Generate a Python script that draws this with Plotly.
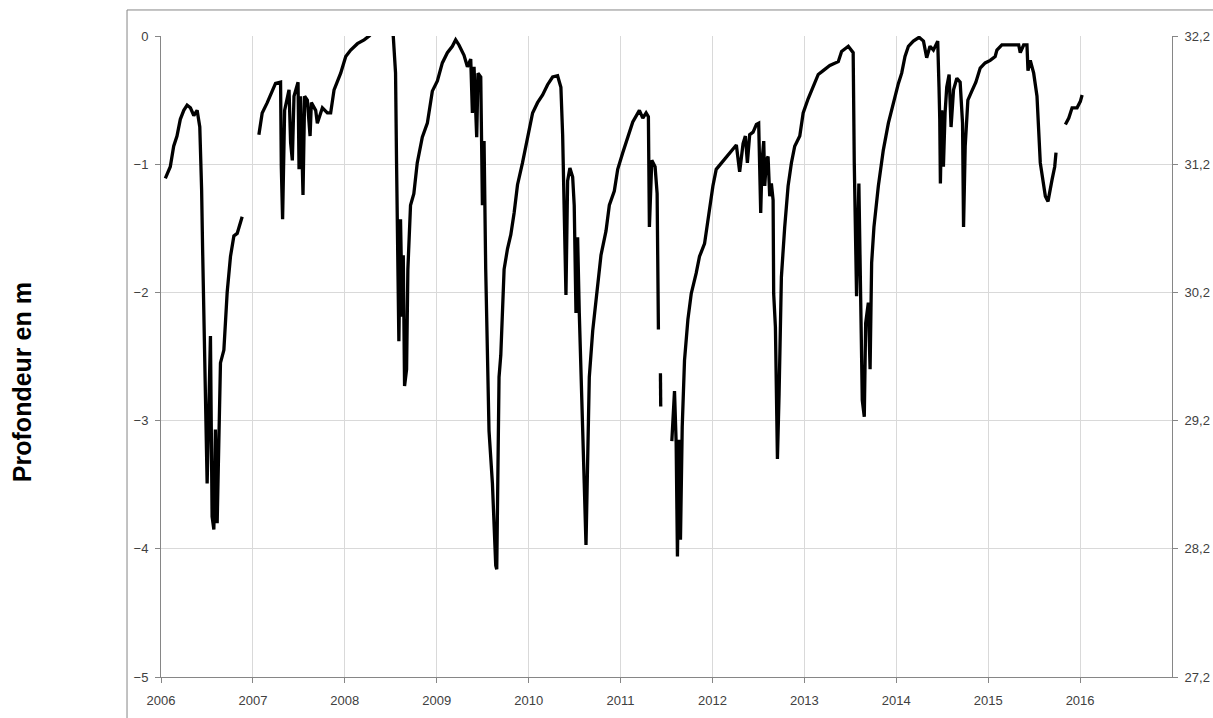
import plotly.graph_objects as go

# Decimal-year positions and depth (m) per continuous record segment
seg1_years = [2006.047, 2006.101, 2006.138, 2006.174, 2006.210, 2006.248, 2006.284, 2006.320,
              2006.357, 2006.393, 2006.422, 2006.436, 2006.442, 2006.453, 2006.463, 2006.502,
              2006.538, 2006.556, 2006.575, 2006.592, 2006.611, 2006.647, 2006.684, 2006.720,
              2006.756, 2006.793, 2006.829, 2006.883]
seg1_depth = [-1.11, -1.02, -0.86, -0.78, -0.65, -0.58, -0.54, -0.56,
              -0.62, -0.58, -0.71, -1.04, -1.20, -1.67, -2.03, -3.49,
              -2.34, -3.75, -3.85, -3.07, -3.80, -2.55, -2.45, -2.00,
              -1.72, -1.56, -1.54, -1.41]

seg2_years = [2007.065, 2007.101, 2007.156, 2007.210, 2007.246, 2007.301, 2007.309, 2007.323,
              2007.345, 2007.393, 2007.410, 2007.429, 2007.447, 2007.491, 2007.502, 2007.519,
              2007.545, 2007.563, 2007.592, 2007.622, 2007.636, 2007.683, 2007.701, 2007.756,
              2007.810, 2007.846, 2007.883, 2007.955, 2008.010, 2008.064, 2008.137, 2008.210,
              2008.265, 2008.366, 2008.475, 2008.527, 2008.552, 2008.563, 2008.570, 2008.588,
              2008.606, 2008.625, 2008.636, 2008.650, 2008.672, 2008.686, 2008.715, 2008.751,
              2008.788, 2008.843, 2008.898, 2008.952, 2009.007, 2009.061, 2009.116, 2009.170,
              2009.206, 2009.242, 2009.297, 2009.334, 2009.370, 2009.388, 2009.406, 2009.435,
              2009.449, 2009.479, 2009.497, 2009.515, 2009.533, 2009.569, 2009.606, 2009.642,
              2009.653, 2009.678, 2009.697, 2009.733, 2009.770, 2009.806, 2009.842, 2009.879,
              2009.933, 2009.988, 2010.043, 2010.097, 2010.152, 2010.206, 2010.261, 2010.315,
              2010.351, 2010.370, 2010.387, 2010.406, 2010.424, 2010.449, 2010.479, 2010.496,
              2010.515, 2010.533, 2010.551, 2010.569, 2010.588, 2010.605, 2010.624, 2010.642,
              2010.660, 2010.697, 2010.751, 2010.787, 2010.842, 2010.878, 2010.932, 2010.969,
              2011.024, 2011.078, 2011.133, 2011.205, 2011.242, 2011.278, 2011.303, 2011.314,
              2011.340, 2011.376, 2011.398, 2011.412]
seg2_depth = [-0.77, -0.60, -0.52, -0.42, -0.37, -0.36, -1.02, -1.43,
              -0.58, -0.42, -0.83, -0.97, -0.47, -0.36, -1.04, -0.47,
              -1.24, -0.47, -0.50, -0.78, -0.52, -0.58, -0.68, -0.56,
              -0.60, -0.60, -0.42, -0.29, -0.16, -0.11, -0.06, -0.03,
              0.00, 0.08, 0.08, 0.00, -0.29, -0.99, -1.43, -2.38,
              -1.43, -2.19, -1.71, -2.73, -2.60, -1.82, -1.32, -1.23,
              -0.99, -0.79, -0.68, -0.43, -0.35, -0.21, -0.13, -0.08,
              -0.03, -0.07, -0.15, -0.24, -0.18, -0.60, -0.24, -0.79,
              -0.29, -0.32, -1.32, -0.82, -1.82, -3.08, -3.49, -4.13,
              -4.16, -2.66, -2.49, -1.82, -1.66, -1.55, -1.38, -1.16,
              -0.99, -0.79, -0.60, -0.52, -0.46, -0.38, -0.32, -0.31,
              -0.40, -0.77, -1.27, -2.02, -1.13, -1.03, -1.10, -1.32,
              -2.16, -1.57, -2.16, -2.66, -3.22, -3.49, -3.97, -3.22,
              -2.66, -2.30, -1.96, -1.71, -1.52, -1.32, -1.21, -1.04,
              -0.91, -0.78, -0.67, -0.58, -0.64, -0.60, -0.63, -1.49,
              -0.97, -1.02, -1.23, -2.29]

seg3_years = [2011.434, 2011.437]
seg3_depth = [-2.63, -2.89]

seg4_years = [2011.558, 2011.587, 2011.605, 2011.619, 2011.635, 2011.652, 2011.671, 2011.696,
              2011.733, 2011.769, 2011.823, 2011.859, 2011.914, 2011.951, 2012.005, 2012.041,
              2012.096, 2012.151, 2012.205, 2012.260, 2012.296, 2012.333, 2012.358, 2012.380,
              2012.405, 2012.442, 2012.478, 2012.503, 2012.525, 2012.540, 2012.558, 2012.569,
              2012.587, 2012.605, 2012.623, 2012.641, 2012.660, 2012.666, 2012.685, 2012.707,
              2012.725, 2012.750, 2012.786, 2012.823, 2012.859, 2012.895, 2012.950, 2012.987,
              2013.041, 2013.096, 2013.151, 2013.205, 2013.277, 2013.369, 2013.405, 2013.478,
              2013.514, 2013.531, 2013.543, 2013.549, 2013.568, 2013.593, 2013.615, 2013.630,
              2013.652, 2013.667, 2013.696, 2013.715, 2013.732, 2013.757, 2013.805, 2013.859,
              2013.914, 2013.986, 2014.023, 2014.059, 2014.095, 2014.132, 2014.186, 2014.248,
              2014.296, 2014.331, 2014.367, 2014.404, 2014.451, 2014.465, 2014.473, 2014.480,
              2014.495, 2014.513, 2014.531, 2014.549, 2014.575, 2014.596, 2014.623, 2014.659,
              2014.695, 2014.721, 2014.732, 2014.750, 2014.779, 2014.822, 2014.866, 2014.913,
              2014.967, 2015.022, 2015.076, 2015.095, 2015.149, 2015.258, 2015.332, 2015.349,
              2015.386, 2015.422, 2015.433, 2015.458, 2015.495, 2015.531, 2015.567, 2015.622,
              2015.651, 2015.695, 2015.724, 2015.738]
seg4_depth = [-3.16, -2.77, -3.17, -4.06, -3.15, -3.93, -3.05, -2.53,
              -2.21, -2.01, -1.85, -1.72, -1.62, -1.43, -1.17, -1.04,
              -0.99, -0.95, -0.90, -0.85, -1.06, -0.84, -0.78, -0.99,
              -0.77, -0.75, -0.69, -0.68, -1.38, -0.97, -0.82, -1.17,
              -0.97, -0.94, -1.25, -1.15, -1.28, -2.01, -2.27, -3.30,
              -2.79, -1.88, -1.49, -1.17, -0.99, -0.86, -0.78, -0.60,
              -0.49, -0.40, -0.30, -0.27, -0.23, -0.20, -0.12, -0.08,
              -0.11, -0.13, -0.99, -1.30, -2.03, -1.15, -2.29, -2.84,
              -2.97, -2.24, -2.08, -2.60, -1.77, -1.49, -1.17, -0.89,
              -0.68, -0.47, -0.37, -0.29, -0.16, -0.08, -0.04, -0.01,
              -0.04, -0.17, -0.08, -0.11, -0.04, -0.40, -0.65, -1.15,
              -0.58, -1.02, -0.60, -0.40, -0.30, -0.71, -0.42, -0.33,
              -0.36, -0.68, -1.49, -0.86, -0.50, -0.43, -0.36, -0.25,
              -0.21, -0.19, -0.16, -0.11, -0.07, -0.07, -0.07, -0.13,
              -0.07, -0.07, -0.27, -0.19, -0.29, -0.47, -0.99, -1.25,
              -1.29, -1.12, -1.02, -0.91]

seg5_years = [2015.840, 2015.877, 2015.913, 2015.967, 2016.003, 2016.022]
seg5_depth = [-0.69, -0.64, -0.56, -0.56, -0.51, -0.46]

year_ticks = list(range(2006, 2017))
right_ticks = [27.2, 28.2, 29.2, 30.2, 31.2, 32.2]
y_title = "Profondeur en m"

segments = [(seg1_years, seg1_depth), (seg2_years, seg2_depth), (seg3_years, seg3_depth),
            (seg4_years, seg4_depth), (seg5_years, seg5_depth)]
xs, ys = [], []
for sx, sy in segments:
    xs += sx + [None]
    ys += sy + [None]

axis_grey = "#868686"
grid_grey = "#d9d9d9"
tick_font = dict(family="Liberation Sans, Arial, sans-serif", size=13, color="#404040")

fig = go.Figure()
fig.add_trace(go.Scatter(x=xs, y=ys, mode="lines", connectgaps=False,
                         line=dict(color="black", width=3.3), showlegend=False,
                         hoverinfo="x+y"))
fig.add_trace(go.Scatter(x=[2006, 2017], y=[27.2, 32.2], yaxis="y2", mode="lines",
                         line=dict(width=0), opacity=0, showlegend=False, hoverinfo="skip"))

fig.update_layout(
    width=1213, height=718,
    margin=dict(l=161, r=41, t=36, b=41, autoexpand=False),
    paper_bgcolor="white", plot_bgcolor="white",
    xaxis=dict(range=[2006, 2017], tickvals=year_ticks, ticktext=[str(y) for y in year_ticks],
               showgrid=True, gridcolor=grid_grey, gridwidth=1,
               showline=True, linecolor=axis_grey, linewidth=1,
               ticks="outside", ticklen=5, tickcolor=axis_grey, automargin=False,
               tickfont=tick_font, zeroline=False, ticklabelstandoff=6),
    yaxis=dict(range=[-5, 0], tickvals=[0, -1, -2, -3, -4, -5],
               showgrid=True, gridcolor=grid_grey, gridwidth=1,
               showline=True, linecolor=axis_grey, linewidth=1,
               ticks="outside", ticklen=5, tickcolor=axis_grey, automargin=False,
               tickfont=tick_font, zeroline=False, ticklabelstandoff=4),
    yaxis2=dict(range=[27.2, 32.2], overlaying="y", side="right",
                tickvals=right_ticks, ticktext=[f"{v:.1f}".replace(".", ",") for v in right_ticks],
                showgrid=False, showline=True, linecolor=axis_grey, linewidth=1,
                ticks="outside", ticklen=5, tickcolor=axis_grey, automargin=False,
                tickfont=tick_font, zeroline=False, ticklabelstandoff=4),
    shapes=[dict(type="rect", xref="paper", yref="paper", x0=-0.0336, x1=1.2,
                 y0=-0.3, y1=1.0406, line=dict(color=axis_grey, width=1),
                 fillcolor="rgba(0,0,0,0)", layer="below")],
    annotations=[dict(text=f"<b>{y_title}</b>", xref="paper", yref="paper",
                      x=-0.1375, y=0.460, xanchor="center", yanchor="middle",
                      textangle=-90, showarrow=False,
                      font=dict(family="Liberation Sans, Arial, sans-serif", size=25, color="black"))],
)

fig.write_html("out.html", config={"displayModeBar": False},
               post_script="document.body.style.margin='0';document.body.style.overflow='hidden';")
